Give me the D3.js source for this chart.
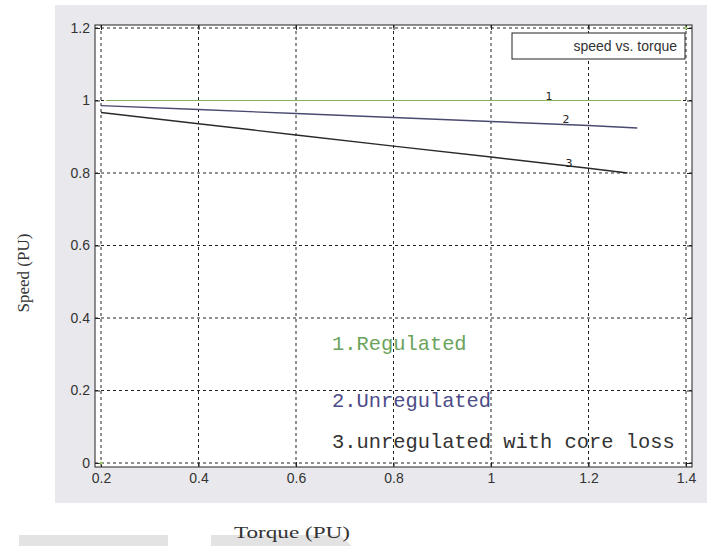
<!DOCTYPE html>
<html>
<head>
<meta charset="utf-8">
<script src="https://cdn.jsdelivr.net/npm/d3@7"></script>
<style>
  body { margin: 0; background: #fff; }
</style>
</head>
<body>
<svg id="chart"></svg>
<script>
const xTicks = [0.2, 0.4, 0.6, 0.8, 1, 1.2, 1.4];
const yTicks = [0, 0.2, 0.4, 0.6, 0.8, 1, 1.2];

const regulated = [[0.21, 1], [1.39, 1]];
const unregulated = [[0.2, 0.986], [0.4, 0.975], [0.6, 0.964], [0.8, 0.953], [1, 0.942], [1.2, 0.931], [1.3, 0.924]];
const coreLoss = [[0.2, 0.967], [0.4, 0.936], [0.6, 0.905], [0.8, 0.874], [1, 0.844], [1.2, 0.813], [1.28, 0.8]];
const curveLabels = [
  { text: '1', x: 1.119, y: 1.012 },
  { text: '2', x: 1.154, y: 0.949 },
  { text: '3', x: 1.16, y: 0.828 }
];
const notes = [
  { text: '1.Regulated', color: '#6aa35a' },
  { text: '2.Unregulated', color: '#4c4c88' },
  { text: '3.unregulated with core loss', color: '#333' }
];

const width = 716;
const height = 546;
const frame = { left: 95, right: 692, top: 25, bottom: 467 };

const svg = d3.select('#chart')
  .attr('width', width)
  .attr('height', height);

// grey figure panel
svg.append('rect')
  .attr('x', 55).attr('y', 5)
  .attr('width', 652).attr('height', 498)
  .attr('fill', '#e9e9ed');

// bits of grey at the bottom of the screenshot
svg.append('rect')
  .attr('x', 19).attr('y', 535)
  .attr('width', 149).attr('height', 11)
  .attr('fill', '#e3e3e3');
svg.append('path')
  .attr('d', 'M211,535H340L352,546H211Z')
  .attr('fill', '#e3e3e3');

svg.append('rect')
  .attr('x', frame.left).attr('y', frame.top)
  .attr('width', frame.right - frame.left)
  .attr('height', frame.bottom - frame.top)
  .attr('fill', '#fff');

const x = d3.scaleLinear()
  .domain([0.2, 1.4])
  .range([101, 686]);

const y = d3.scaleLinear()
  .domain([0, 1.2])
  .range([463, 28]);

// dotted grid
svg.append('g')
  .selectAll('line')
  .data(xTicks)
  .enter()
  .append('line')
  .attr('x1', d => x(d)).attr('x2', d => x(d))
  .attr('y1', frame.top).attr('y2', frame.bottom)
  .attr('stroke', '#222')
  .attr('stroke-dasharray', '3,3');

svg.append('g')
  .selectAll('line')
  .data(yTicks)
  .enter()
  .append('line')
  .attr('y1', d => y(d)).attr('y2', d => y(d))
  .attr('x1', frame.left).attr('x2', frame.right)
  .attr('stroke', '#222')
  .attr('stroke-dasharray', '3,3');

const styleAxis = g => {
  g.select('.domain').remove();
  g.selectAll('line').attr('stroke', '#222');
  g.selectAll('text')
    .attr('font-family', '"Liberation Sans", Arial, sans-serif')
    .attr('font-size', 14)
    .attr('fill', '#333');
};

svg.append('g')
  .attr('transform', `translate(${frame.left},0)`)
  .call(d3.axisLeft(y).tickValues(yTicks).tickSize(-5).tickPadding(5).tickFormat(d3.format('')))
  .call(styleAxis);

svg.append('g')
  .attr('transform', `translate(${frame.right},0)`)
  .call(d3.axisRight(y).tickValues(yTicks).tickSize(-5).tickFormat(''))
  .call(styleAxis);

svg.append('g')
  .attr('transform', `translate(0,${frame.bottom})`)
  .call(d3.axisBottom(x).tickValues(xTicks).tickSize(-5).tickPadding(6).tickFormat(d3.format('')))
  .call(styleAxis);

svg.append('g')
  .attr('transform', `translate(0,${frame.top})`)
  .call(d3.axisTop(x).tickValues(xTicks).tickSize(-5).tickFormat(''))
  .call(styleAxis);

svg.append('rect')
  .attr('x', frame.left).attr('y', frame.top)
  .attr('width', frame.right - frame.left)
  .attr('height', frame.bottom - frame.top)
  .attr('fill', 'none')
  .attr('stroke', '#222');

const line = d3.line()
  .x(d => x(d[0]))
  .y(d => y(d[1]));

svg.append('path')
  .datum(regulated)
  .attr('d', line)
  .attr('fill', 'none')
  .attr('stroke', '#86b455')
  .attr('stroke-width', 1.2);

svg.append('path')
  .datum(unregulated)
  .attr('d', line)
  .attr('fill', 'none')
  .attr('stroke', '#4a4a70')
  .attr('stroke-width', 1.4);

svg.append('path')
  .datum(coreLoss)
  .attr('d', line)
  .attr('fill', 'none')
  .attr('stroke', '#2a2a2a')
  .attr('stroke-width', 1.4);

// small green marks in two corners
svg.append('g')
  .selectAll('circle')
  .data([[0.2, 0], [1.4, 1.2]])
  .enter()
  .append('circle')
  .attr('cx', d => x(d[0]))
  .attr('cy', d => y(d[1]))
  .attr('r', 1.6)
  .attr('fill', '#9acd6a');

svg.append('g')
  .selectAll('text')
  .data(curveLabels)
  .enter()
  .append('text')
  .attr('x', d => x(d.x))
  .attr('y', d => y(d.y))
  .attr('dy', '0.35em')
  .attr('text-anchor', 'middle')
  .attr('font-family', '"DejaVu Sans", sans-serif')
  .attr('font-size', 11)
  .attr('fill', '#222')
  .text(d => d.text);

// legend box
svg.append('rect')
  .attr('x', 512).attr('y', 33)
  .attr('width', 173).attr('height', 26)
  .attr('fill', '#fff')
  .attr('stroke', '#222');
svg.append('text')
  .attr('x', 677).attr('y', 51)
  .attr('text-anchor', 'end')
  .attr('font-family', '"Liberation Sans", Arial, sans-serif')
  .attr('font-size', 14)
  .attr('fill', '#333')
  .text('speed vs. torque');

svg.append('g')
  .selectAll('text')
  .data(notes)
  .enter()
  .append('text')
  .attr('x', 332)
  .attr('y', (d, i) => [350, 407, 448][i])
  .attr('font-family', '"Liberation Mono", "Courier New", monospace')
  .attr('font-size', 20.4)
  .attr('fill', d => d.color)
  .text(d => d.text);

svg.append('text')
  .attr('transform', 'translate(29,273) rotate(-90)')
  .attr('text-anchor', 'middle')
  .attr('font-family', '"Liberation Serif", "Times New Roman", serif')
  .attr('font-size', 17)
  .attr('fill', '#333')
  .text('Speed (PU)');

svg.append('text')
  .attr('x', 234).attr('y', 538)
  .attr('textLength', 116)
  .attr('lengthAdjust', 'spacingAndGlyphs')
  .attr('font-family', '"Liberation Serif", "Times New Roman", serif')
  .attr('font-size', 17)
  .attr('fill', '#333')
  .text('Torque (PU)');
</script>
</body>
</html>
